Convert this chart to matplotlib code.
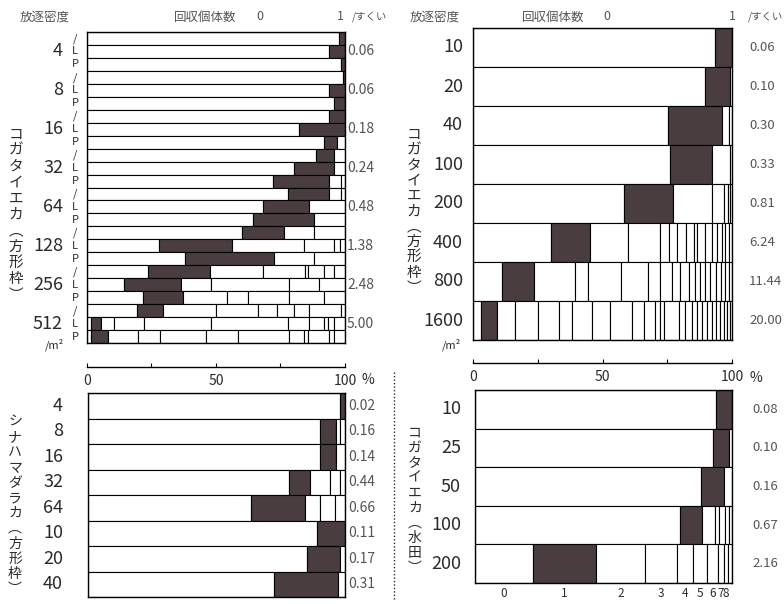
import matplotlib
import matplotlib.pyplot as plt
from matplotlib.lines import Line2D
from matplotlib.transforms import blended_transform_factory

matplotlib.rcParams['font.family'] = ['Noto Sans CJK JP', 'DejaVu Sans']

W, H = 784, 604
DARK = '#4a3d40'
INK = '#2b2b2b'
GREY = '#555555'

# ---- 左上: コガタイエカ (方形枠), 各密度 /, L, P の3行 ----
tl_density = ['4', '8', '16', '32', '64', '128', '256', '512']
tl_stage = ['/', 'L', 'P']
tl_rate = ['0.06', '0.06', '0.18', '0.24', '0.48', '1.38', '2.48', '5.00']
tl_segments = [
    [97.7, 2.3], [93.8, 6.2], [98.4, 1.6],
    [99.2, 0.8], [93.8, 6.2], [95.7, 4.3],
    [93.8, 6.2], [82.3, 17.7], [91.7, 5.3, 3.0],
    [88.8, 7.0, 4.2], [80.4, 15.4, 4.2], [71.9, 21.9, 4.7, 1.5],
    [77.8, 16.0, 4.7, 1.5], [68.1, 18.1, 13.8], [64.2, 23.9, 11.9],
    [60.0, 16.5, 11.4, 12.1], [28.0, 28.2, 28.0, 11.6, 2.4, 1.8], [38.1, 34.2, 15.6, 12.1],
    [23.5, 24.3, 20.3, 16.4, 1.3, 5.9, 4.1, 4.2],
    [14.2, 22.2, 11.7, 30.1, 11.8, 10.0],
    [21.6, 15.8, 16.9, 8.0, 16.1, 13.3, 8.3],
    [19.3, 10.3, 20.4, 16.1, 7.5, 6.5, 6.1, 12.2, 1.6],
    [1.6, 3.8, 4.9, 11.6, 26.2, 29.7, 8.4, 5.8, 1.3, 2.5, 4.2],
    [1.6, 6.4, 11.6, 8.7, 17.8, 12.3, 20.0, 5.8, 1.3, 8.4, 1.7, 4.4],
]

# ---- 右上: コガタイエカ (方形枠) ----
tr_density = ['10', '20', '40', '100', '200', '400', '800', '1600']
tr_rate = ['0.06', '0.10', '0.30', '0.33', '0.81', '6.24', '11.44', '20.00']
tr_segments = [
    [93.6, 6.4],
    [89.7, 9.6, 0.7],
    [75.1, 21.0, 2.9, 1.0],
    [75.9, 16.4, 6.8, 0.9],
    [58.2, 19.0, 15.1, 4.5, 1.5, 1.0, 0.7],
    [30.2, 15.1, 14.5, 12.3, 3.4, 3.3, 3.6, 2.8, 1.3, 3.2, 2.6, 1.9, 1.9, 1.3, 1.3, 1.3],
    [11.2, 12.5, 15.6, 5.1, 12.9, 10.3, 4.5, 4.7, 3.2, 3.3, 2.5, 2.0, 1.9, 1.9,
     2.3, 2.0, 1.5, 1.3, 1.3],
    [3.1, 6.2, 6.8, 9.0, 8.0, 5.1, 7.7, 7.1, 8.4, 4.5, 4.5, 1.9, 1.3, 5.8, 2.6,
     2.6, 1.9, 1.9, 1.9, 2.0, 1.6, 1.6, 1.3, 1.3, 1.2, 0.7],
]

# ---- 左下: シナハマダラカ (方形枠) ----
bl_density = ['4', '8', '16', '32', '64', '10', '20', '40']
bl_rate = ['0.02', '0.16', '0.14', '0.44', '0.66', '0.11', '0.17', '0.31']
bl_segments = [
    [98.2, 1.8],
    [90.4, 6.1, 1.7, 1.8],
    [90.4, 6.1, 3.5],
    [78.3, 8.2, 7.8, 3.9, 1.8],
    [63.6, 20.8, 6.0, 5.8, 3.8],
    [89.1, 10.9],
    [85.2, 13.0, 1.8],
    [72.2, 24.9, 2.9],
]

# ---- 右下: コガタイエカ (水田) ----
br_density = ['10', '25', '50', '100', '200']
br_rate = ['0.08', '0.10', '0.16', '0.67', '2.16']
br_segments = [
    [93.8, 6.2],
    [92.8, 6.2, 1.0],
    [88.0, 8.8, 3.2],
    [79.8, 8.4, 5.0, 1.9, 2.2, 1.7, 1.0],
    [22.6, 24.4, 19.2, 12.3, 6.5, 5.3, 4.1, 2.6, 1.3, 1.7],
]
br_count_labels = ['0', '1', '2', '3', '4', '5', '6', '7', '8']

scale_ticks = [0, 25, 50, 75, 100]
scale_labels = ['0', '', '50', '', '100']


def px_axes(fig, x0, y0, x1, y1):
    return fig.add_axes([x0 / W, 1 - y1 / H, (x1 - x0) / W, (y1 - y0) / H])


def ftext(fig, x, y, s, **kw):
    kw.setdefault('color', INK)
    fig.text(x / W, 1 - y / H, s, **kw)


def draw_rows(ax, segments):
    """1行 = 回収個体数 0,1,2,... の割合 (1 を黒塗り)"""
    for i, row in enumerate(segments):
        left = 0
        for j, w in enumerate(row):
            ax.barh(i, w, left=left, height=1.0,
                    color=DARK if j == 1 else 'white',
                    edgecolor='black', linewidth=0.8)
            left += w
    ax.set_xlim(0, 100)
    ax.set_ylim(len(segments) - 0.5, -0.5)
    ax.set_xticks([])
    ax.set_yticks([])
    for s in ax.spines.values():
        s.set_linewidth(1.0)


def row_text(fig, ax, x, row, s, **kw):
    tr = blended_transform_factory(fig.transFigure, ax.transData)
    kw.setdefault('color', INK)
    ax.text(x / W, row, s, transform=tr, va='center', clip_on=False, **kw)


def scale_bar(ax, offset_px, height_px):
    sec = ax.secondary_xaxis(-offset_px / height_px)
    sec.set_xticks(scale_ticks, labels=scale_labels)
    sec.tick_params(direction='in', length=3, width=0.8, pad=5,
                    labelsize=10, labelcolor=INK)
    sec.spines['bottom'].set_linewidth(1.0)


def vlabel(fig, x, y0, step, chars, size=10.5):
    for k, c in enumerate(chars):
        ftext(fig, x, y0 + k * step, c, ha='center', va='center', fontsize=size)


def header(fig, x_dens, x_title, x0, x1, x_unit):
    ftext(fig, x_dens, 17, '放逐密度', ha='center', va='center', fontsize=9, color=GREY)
    ftext(fig, x_title, 17, '回収個体数', ha='center', va='center', fontsize=9, color=GREY)
    ftext(fig, x0, 17, '0', ha='center', va='center', fontsize=9, color=GREY)
    ftext(fig, x1, 17, '1', ha='center', va='center', fontsize=9, color=GREY)
    ftext(fig, x_unit, 17, '/すくい', ha='left', va='center', fontsize=7.5, color=GREY)


fig = plt.figure(figsize=(W / 100, H / 100), dpi=100)

# 左上
ax_tl = px_axes(fig, 87, 32, 345, 343)
draw_rows(ax_tl, tl_segments)
for k, d in enumerate(tl_density):
    row_text(fig, ax_tl, 63, 3 * k + 1, d, ha='right', fontsize=13)
    row_text(fig, ax_tl, 347, 3 * k + 1, tl_rate[k], ha='left', fontsize=10, color=GREY)
    for m, st in enumerate(tl_stage):
        row_text(fig, ax_tl, 75, 3 * k + m, st, ha='center', fontsize=8)
scale_bar(ax_tl, 24, 311)
ftext(fig, 362, 380, '%', ha='left', va='center', fontsize=10)
ftext(fig, 55, 345, '/m²', ha='center', va='center', fontsize=8, style='italic')
header(fig, 45, 205, 260, 340, 352)
vlabel(fig, 16, 135, 16.0, 'コガタイエカ︵方形枠︶')

# 右上
ax_tr = px_axes(fig, 473, 28, 732, 340)
draw_rows(ax_tr, tr_segments)
for k, d in enumerate(tr_density):
    row_text(fig, ax_tr, 463, k, d, ha='right', fontsize=13)
    row_text(fig, ax_tr, 749, k, tr_rate[k], ha='left', fontsize=9.5, color=GREY)
scale_bar(ax_tr, 23, 312)
ftext(fig, 749, 378, '%', ha='left', va='center', fontsize=10)
ftext(fig, 452, 345, '/m²', ha='center', va='center', fontsize=8, style='italic')
header(fig, 435, 553, 607, 732, 748)
vlabel(fig, 414, 135, 15.3, 'コガタイエカ︵方形枠︶')

# 左下
ax_bl = px_axes(fig, 88, 393, 345, 597)
draw_rows(ax_bl, bl_segments)
for k, d in enumerate(bl_density):
    row_text(fig, ax_bl, 63, k, d, ha='right', fontsize=13)
    row_text(fig, ax_bl, 348, k, bl_rate[k], ha='left', fontsize=10, color=GREY)
vlabel(fig, 15, 422, 15.2, 'シナハマダラカ︵方形枠︶', size=10)

# 右下
ax_br = px_axes(fig, 475, 390, 732, 583)
draw_rows(ax_br, br_segments)
for k, d in enumerate(br_density):
    row_text(fig, ax_br, 461, k, d, ha='right', fontsize=13)
    row_text(fig, ax_br, 752, k, br_rate[k], ha='left', fontsize=9.5, color=GREY)
last = br_segments[-1]
centers = [sum(last[:j]) + last[j] / 2 for j in range(len(br_count_labels))]
ax_br.set_xticks(centers, labels=br_count_labels)
ax_br.tick_params(axis='x', length=0, pad=3, labelsize=8.5, labelcolor=INK)
vlabel(fig, 415, 433, 15.0, 'コガタイエカ︵水田︶', size=10)

# 点線の仕切り
fig.add_artist(Line2D([394 / W, 394 / W], [1 - 372 / H, 1 - 600 / H],
                      transform=fig.transFigure, color=INK, lw=1.0,
                      linestyle=(0, (1, 1.5))))

fig.savefig('out.png', dpi=100)
